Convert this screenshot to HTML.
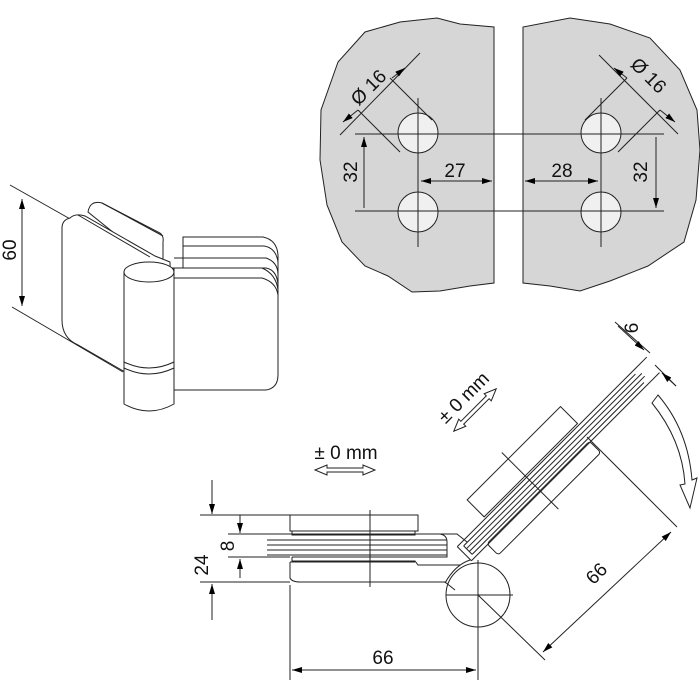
<!DOCTYPE html>
<html><head><style>
html,body{margin:0;padding:0;background:#fff}
svg{display:block}
text{font-family:"Liberation Sans","DejaVu Sans",sans-serif;fill:#111}
</style></head><body>
<svg width="700" height="699" viewBox="0 0 700 699" xmlns="http://www.w3.org/2000/svg">
<defs>
<marker id="a" viewBox="0 0 10 6" refX="10" refY="3" markerWidth="10" markerHeight="6" orient="auto-start-reverse" markerUnits="userSpaceOnUse"><path d="M0,0 L10,3 L0,6 Z" fill="#000"/></marker>
</defs>
<g fill="none" stroke="#222" stroke-width="1">
<path d="M494,27 L494,283 L470,286 L440,291 L412,292 L388,276 L365,266 L342,242 L327,205 L320,160 L321,110 L338,62 L365,32 L400,22 L437,18 L460,24 Z" fill="#d6d6d6"/>
<path d="M523,27 L523,283 L550,286 L580,291 L610,281 L648,266 L684,242 L696,200 L700,150 L697,110 L680,70 L650,38 L610,24 L570,18 Z" fill="#d6d6d6"/>
<circle cx="418" cy="133" r="20" fill="#f0f0f0"/>
<circle cx="418" cy="212" r="20" fill="#f0f0f0"/>
<circle cx="601" cy="133" r="20" fill="#f0f0f0"/>
<circle cx="601" cy="212" r="20" fill="#f0f0f0"/>
<path d="M418,98 V247 M601,98 V247 M355,134 H664 M355,211 H664"/>
<path d="M364,137 V208 M656,137 V208" marker-start="url(#a)" marker-end="url(#a)"/>
<path d="M421,181 H492" marker-start="url(#a)" marker-end="url(#a)"/>
<path d="M525,181 H598" marker-start="url(#a)" marker-end="url(#a)"/>
<path d="M340,135 L420,53"/>
<path d="M358,110 L400,152 M390,78 L432,120"/>
<path d="M343,122 L358,110" marker-start="url(#a)"/>
<path d="M405,68 L392,78" marker-start="url(#a)"/>
<path d="M599,55 L678,134"/>
<path d="M627,78 L585,120 M660,110 L618,152"/>
<path d="M614,68 L627,78" marker-start="url(#a)"/>
<path d="M675,122 L660,110" marker-start="url(#a)"/>
</g>
<text x="455" y="177" font-size="19" text-anchor="middle">27</text>
<text x="562" y="177" font-size="19" text-anchor="middle">28</text>
<text transform="translate(357,172) rotate(-90)" font-size="19" text-anchor="middle">32</text>
<text transform="translate(647,172) rotate(-90)" font-size="19" text-anchor="middle">32</text>
<text transform="translate(373,92) rotate(-45)" font-size="19" text-anchor="middle">Ø 16</text>
<text transform="translate(644,80) rotate(45)" font-size="19" text-anchor="middle">Ø 16</text>

<g fill="none" stroke="#222" stroke-width="1">
<path d="M10,185 L72,220 M12,307 L123,372"/>
<path d="M22,199 V306" marker-start="url(#a)" marker-end="url(#a)"/>
<path d="M88,212 Q90,200 102,203 L160,233 Q164,236 163,242 L163,262 L150,262 Z" fill="#fff"/>
<path d="M102,203 L163,236"/>
<path d="M70,218 Q75,213 85,216 L155,256 L170,262 L172,400 L125,372 L78,345 Q62,338 62,320 L62,228 Q62,220 70,218 Z" fill="#fff"/>
<path d="M78,215 L150,257"/>
<path d="M183,237 L263,237 Q277,240 278,255 L278,370 L183,370 Z" fill="#fff"/>
<path d="M183,246 L264,246 Q276,248 278,262"/>
<path d="M174,258 L266,258 Q278,262 278,275"/>
<path d="M160,268 L266,268 Q277,270 278,285"/>
<path d="M174,268 L174,390 L266,390 Q278,388 278,375 L278,290 Q276,274 262,268 Z" fill="#fff"/>
<path d="M174,278 L262,278 Q276,282 278,295"/>
<path d="M124,272 L124,404 Q149,418 174,404 L174,272" fill="#fff"/>
<ellipse cx="149" cy="272" rx="25" ry="10" fill="#fff"/>
<path d="M124,362 Q149,374 174,362 M124,368 Q149,380 174,368"/>
</g>
<text transform="translate(16,250) rotate(-90)" font-size="19" text-anchor="middle">60</text>

<g fill="none" stroke="#222" stroke-width="1">
<path d="M200,515 H290 M200,582 H290 M212,480 V513 M212,585 V620" />
<path d="M212,495 V514" marker-end="url(#a)"/>
<path d="M212,603 V584" marker-end="url(#a)"/>
<path d="M228,534 H290 M228,557 H290"/>
<path d="M240,515 V533" marker-end="url(#a)"/>
<path d="M240,578 V559" marker-end="url(#a)"/>
<rect x="290" y="515" width="128" height="16" fill="#fff"/>
<path d="M292,531 V535 H415 V531"/>
<path d="M267,540 H447 M267,545 H447 M267,550 H447 M267,555 H447"/>
<path d="M264,534 H440 Q447,535 447,542 V557 H292"/>
<path d="M292,557 V561 H415 L418,565 H460"/>
<path d="M290,562 H415 M290,562 V578 Q292,582 300,582 H445 L455,590"/>
<path d="M430,534 H457 L467,542"/>
<path d="M370,510 V587"/>
<path d="M290,585 V680 M478,560 V680"/>
<path d="M292,670 H476" marker-start="url(#a)" marker-end="url(#a)"/>
<circle cx="478" cy="595" r="32" fill="none"/>
<path d="M446,595 H513 M478,560 V630"/>
<path d="M445,583 Q455,565 470,560"/>
<g transform="translate(470,548) rotate(-45)">
<rect x="32" y="-36" width="132" height="24" fill="#fff"/>
<rect x="15" y="9" width="145" height="16" rx="3" fill="#fff"/>
<path d="M-8,-10 H260 M-8,10 H258 M-8,-10 V10"/>
<path d="M-3,-6 H240 M-3,-2 H245 M-3,2 H245 M-3,6 H240 M-3,-6 V6"/>
<path d="M90,-45 V35"/>
</g>
<path d="M545,660 L478,595 M587,437 L677,527"/>
<path d="M543,652 L671,532" marker-start="url(#a)" marker-end="url(#a)"/>
<path d="M615,322 L650,353 M655,365 L676,386 M672,382 L660,370"/>
<path d="M618,326 L644,350" marker-end="url(#a)"/>
<path d="M676,386 L662,373" marker-end="url(#a)"/>
<path d="M652,403 L658,395 Q688,430 692,480 L697,478 L690,508 L680,485 L685,484 Q682,440 652,403 Z" fill="#fff"/>
<path d="M315,470 L327,465 L327,468 L363,468 L363,465 L375,470 L363,475 L363,472 L327,472 L327,475 Z" fill="#fff"/>
<g transform="translate(475,410) rotate(-45)"><path d="M-30,0 L-18,-5 L-18,-2 L18,-2 L18,-5 L30,0 L18,5 L18,2 L-18,2 L-18,5 Z" fill="#fff"/></g>
</g>
<text x="346" y="459" font-size="19" text-anchor="middle">± 0 mm</text>
<text transform="translate(468,402) rotate(-45)" font-size="19" text-anchor="middle">± 0 mm</text>
<text transform="translate(208,565) rotate(-90)" font-size="19" text-anchor="middle">24</text>
<text transform="translate(234,546) rotate(-90)" font-size="19" text-anchor="middle">8</text>
<text x="383" y="664" font-size="19" text-anchor="middle">66</text>
<text transform="translate(601,578) rotate(-45)" font-size="19" text-anchor="middle">66</text>
<text transform="translate(638,328) rotate(-90)" font-size="19" text-anchor="middle">6</text>
</svg>
</body></html>
